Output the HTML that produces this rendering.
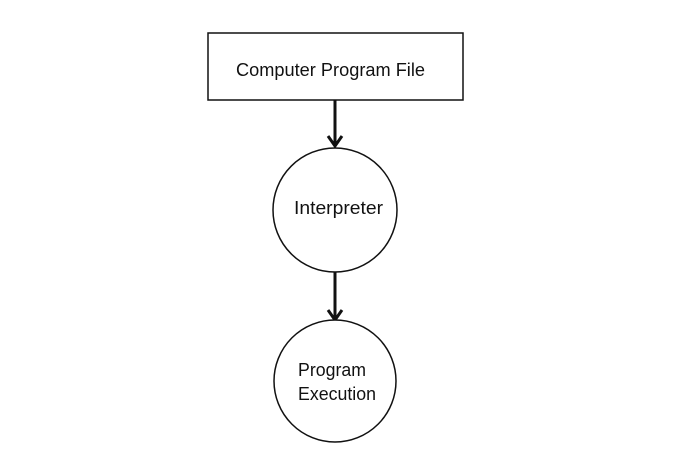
<!DOCTYPE html>
<html><head><style>html,body{margin:0;padding:0;background:#fff;}</style></head>
<body>
<svg width="675" height="464" viewBox="0 0 675 464" xmlns="http://www.w3.org/2000/svg" font-family="'Liberation Sans', sans-serif" font-size="18" fill="#111">
<rect x="208" y="33" width="255" height="67" fill="#fff" stroke="#111" stroke-width="1.5"/>
<text x="236" y="76" textLength="189" lengthAdjust="spacingAndGlyphs">Computer Program File</text>
<line x1="335" y1="100" x2="335" y2="144" stroke="#111" stroke-width="3"/>
<polyline points="328,136 335,146 342,136" fill="none" stroke="#111" stroke-width="3"/>
<circle cx="335" cy="210" r="62" fill="#fff" stroke="#111" stroke-width="1.5"/>
<text x="294" y="214" textLength="89" lengthAdjust="spacingAndGlyphs">Interpreter</text>
<line x1="335" y1="272" x2="335" y2="318" stroke="#111" stroke-width="3"/>
<polyline points="328,310 335,320 342,310" fill="none" stroke="#111" stroke-width="3"/>
<circle cx="335" cy="381" r="61" fill="#fff" stroke="#111" stroke-width="1.5"/>
<text x="298" y="376" textLength="68" lengthAdjust="spacingAndGlyphs">Program</text>
<text x="298" y="400" textLength="78" lengthAdjust="spacingAndGlyphs">Execution</text>
</svg>
</body></html>
